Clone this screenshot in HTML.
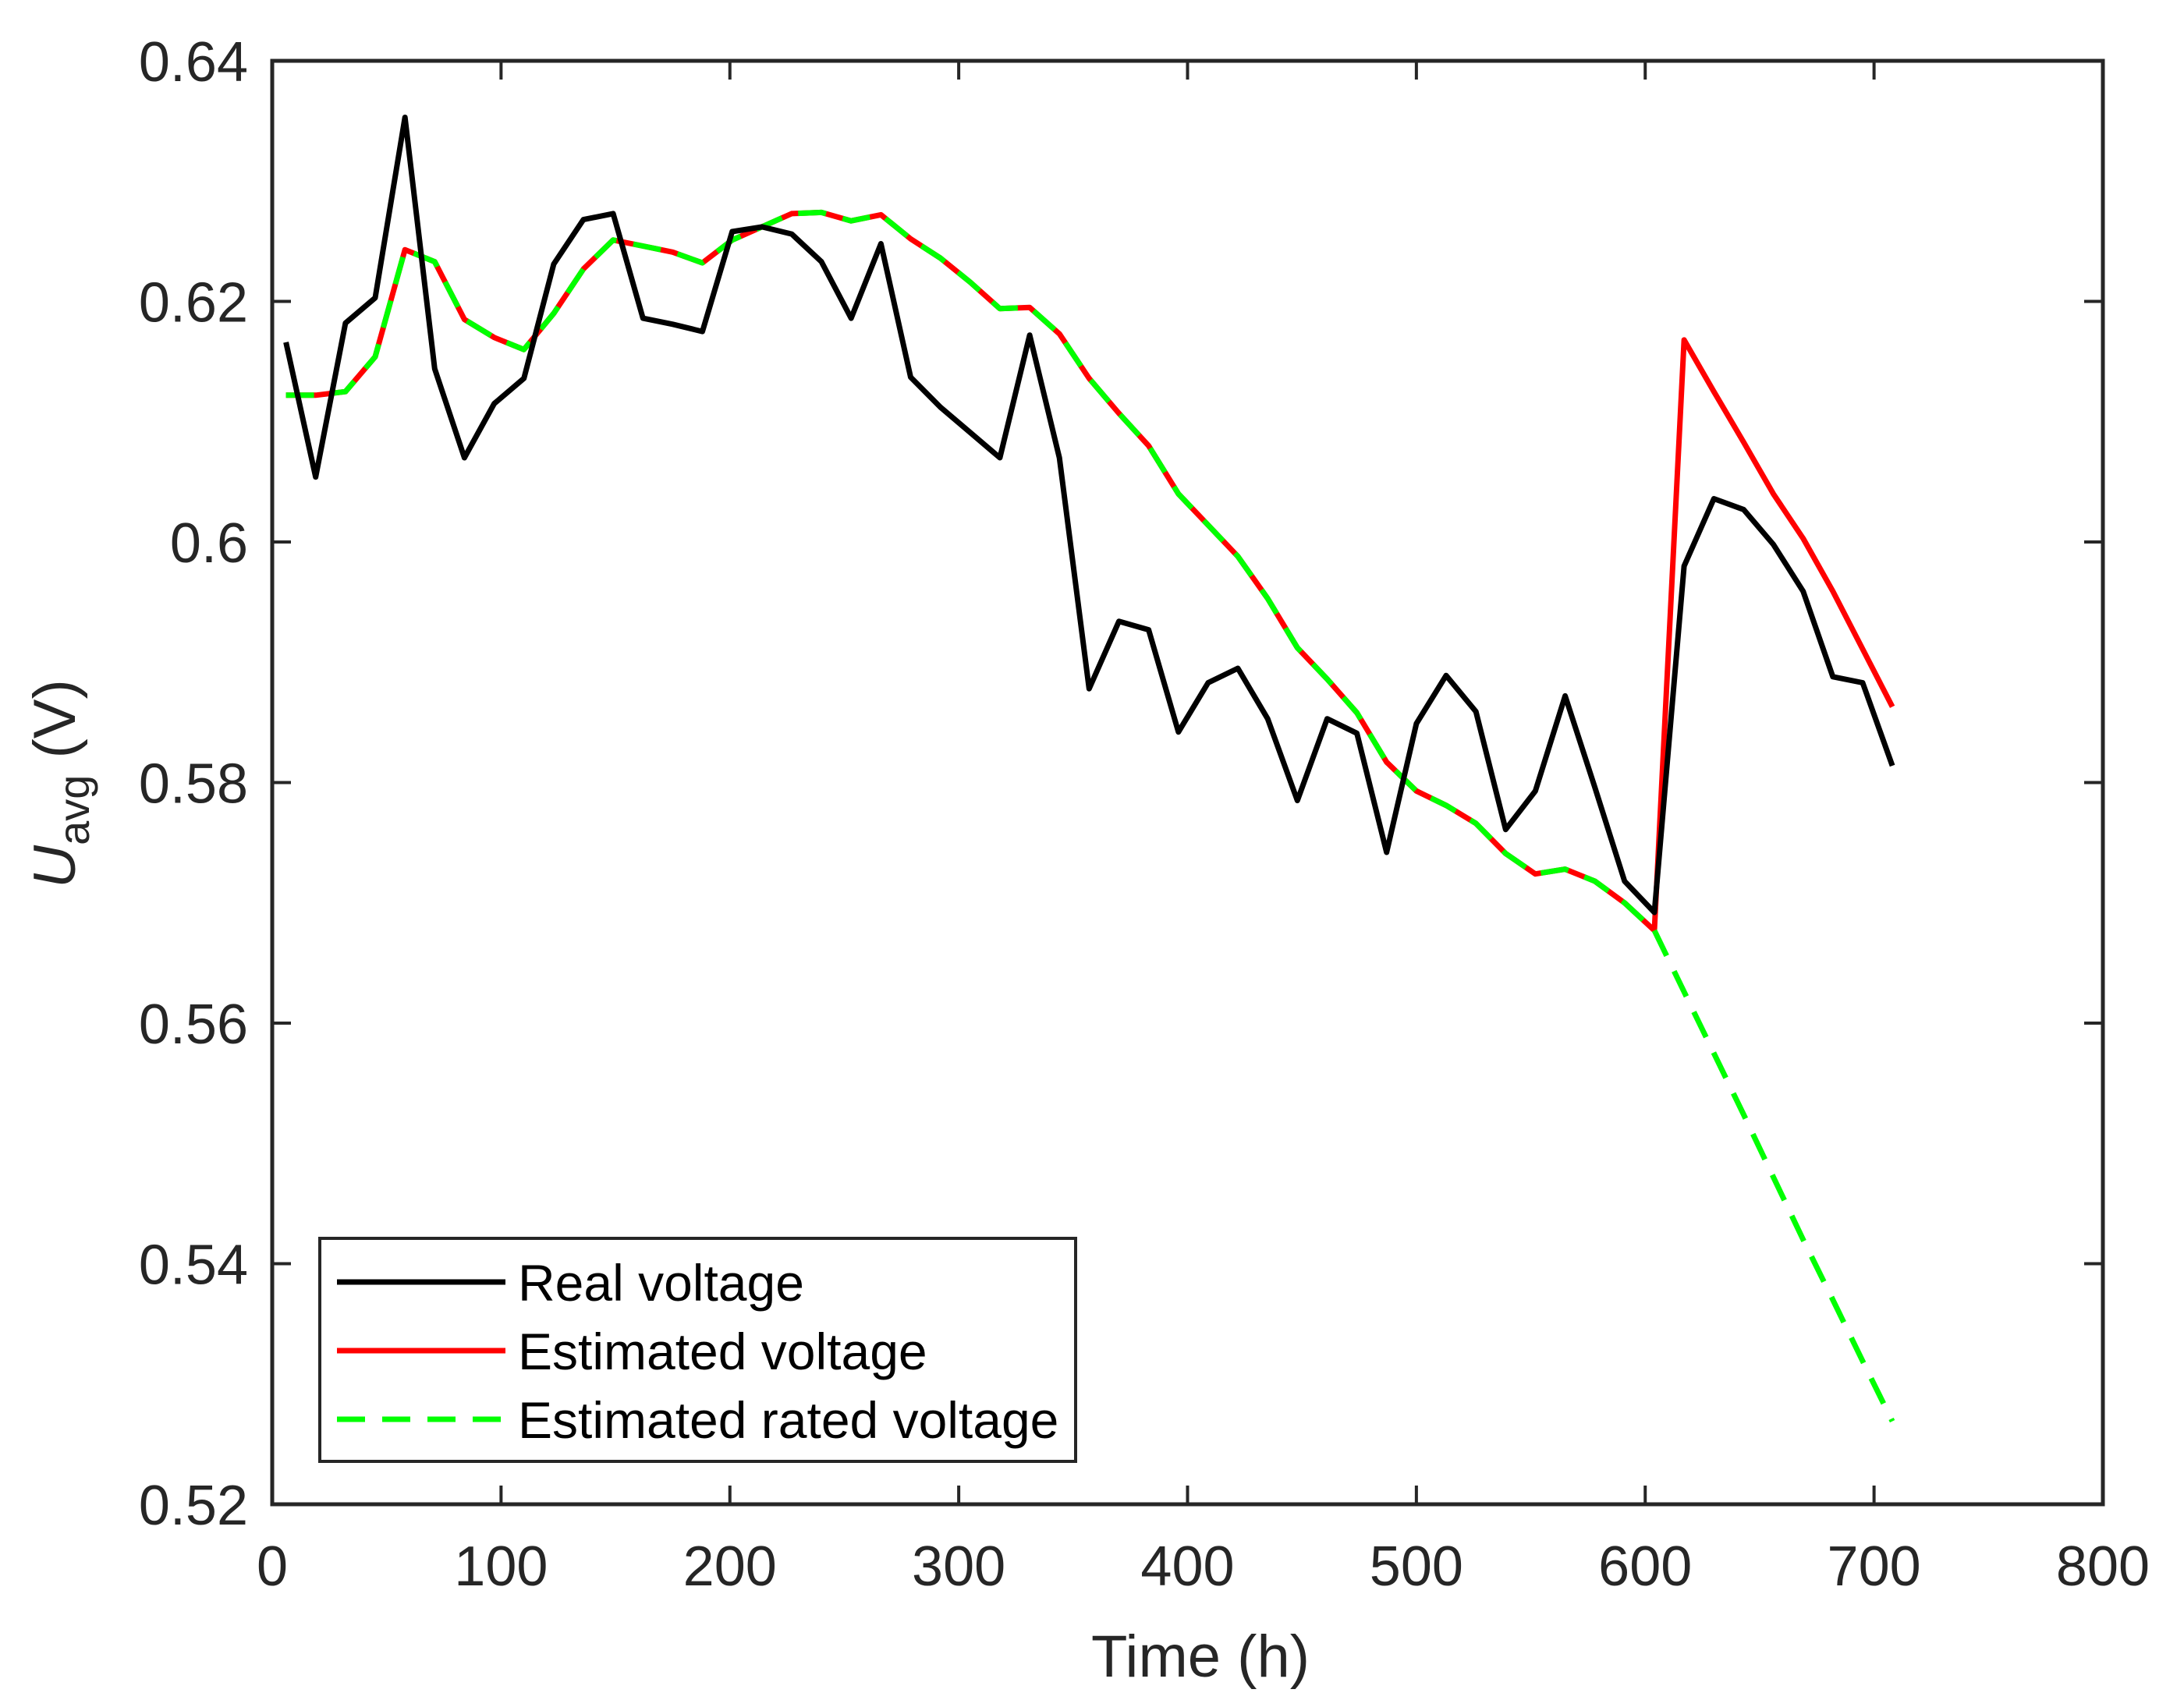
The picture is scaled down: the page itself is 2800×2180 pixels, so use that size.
<!DOCTYPE html>
<html><head><meta charset="utf-8"><style>
html,body{margin:0;padding:0;background:#fff;}
svg{display:block;font-family:"Liberation Sans",Arial,sans-serif;}
</style></head><body>
<svg id="chart" width="2800" height="2180" viewBox="0 0 2800 2180" xmlns="http://www.w3.org/2000/svg">
<rect width="2800" height="2180" fill="#fff"/>
<g id="axes"></g>
<g id="series"></g>
<text x="1539" y="2150" font-size="76" fill="#262626" text-anchor="middle">Time (h)</text>
<text transform="translate(96,1005) rotate(-90)" font-size="76" fill="#262626" text-anchor="middle"><tspan font-style="italic">U</tspan><tspan font-size="56" dy="18">avg</tspan><tspan dy="-18"> (V)</tspan></text>
<g id="legend">
<rect x="410" y="1588" width="969" height="286" fill="#fff" stroke="#262626" stroke-width="4"/>
<line x1="432" y1="1644" x2="648" y2="1644" stroke="#000" stroke-width="7"/>
<text x="664" y="1668" font-size="66" fill="#000">Real voltage</text>
<line x1="432" y1="1732" x2="648" y2="1732" stroke="#ff0000" stroke-width="7"/>
<text x="664" y="1756" font-size="66" fill="#000">Estimated voltage</text>
<line x1="432" y1="1820" x2="648" y2="1820" stroke="#00ff00" stroke-width="7" stroke-dasharray="36,22"/>
<text x="664" y="1844" font-size="66" fill="#000">Estimated rated voltage</text>
</g>
</svg>
<script>
const times = [6,19,32,45,58,71,84,97,110,123,136,149,162,175,188,201,214,227,240,253,266,279,292,305,318,331,344,357,370,383,396,409,422,435,448,461,474,487,500,513,526,539,552,565,578,591,604,617,630,643,656,669,682,695,708];
const realV = [0.6166,0.6054,0.6182,0.6203,0.6353,0.6144,0.6070,0.6115,0.6136,0.6231,0.6268,0.6273,0.6186,0.6181,0.6175,0.6258,0.6262,0.6256,0.6233,0.6186,0.6248,0.6137,0.6112,0.6091,0.6070,0.6172,0.6070,0.5878,0.5934,0.5927,0.5842,0.5883,0.5895,0.5853,0.5785,0.5853,0.5841,0.5742,0.5849,0.5889,0.5859,0.5761,0.5793,0.5872,0.5796,0.5718,0.5692,0.5980,0.6036,0.6027,0.5998,0.5959,0.5888,0.5883,0.5814];
const commonV = [0.6122,0.6122,0.6125,0.6154,0.6243,0.6233,0.6185,0.6170,0.6160,0.6190,0.6227,0.6251,0.6246,0.6241,0.6232,0.6251,0.6262,0.6273,0.6274,0.6267,0.6272,0.6252,0.6236,0.6216,0.6194,0.6195,0.6173,0.6136,0.6107,0.6080,0.6040,0.6014,0.5988,0.5953,0.5912,0.5886,0.5858,0.5817,0.5793,0.5781,0.5766,0.5741,0.5724,0.5728,0.5718,0.5700,0.5677];
const estTail = [0.6168,0.6125,0.6083,0.6040,0.6003,0.5959,0.5911,0.5863];
const ratedTail = [0.5626,0.5575,0.5524,0.5472,0.5420,0.5370,0.5319,0.5269];
const xTicks = [0,100,200,300,400,500,600,700,800];
const yTicks = [0.52,0.54,0.56,0.58,0.60,0.62,0.64];
const yTickLabels = ["0.52","0.54","0.56","0.58","0.6","0.62","0.64"];

const L=349,R=2696,T=78,B=1929;
const X=t=>L+(t-0)/(800-0)*(R-L);
const Y=v=>B-(v-0.52)/(0.64-0.52)*(B-T);
const NS="http://www.w3.org/2000/svg";
const axes=document.getElementById('axes'), series=document.getElementById('series');
function mk(tag,attrs,parent){const e=document.createElementNS(NS,tag);for(const k in attrs)e.setAttribute(k,attrs[k]);parent.appendChild(e);return e;}

const box=mk('rect',{x:L,y:T,width:R-L,height:B-T,fill:'none',stroke:'#262626','stroke-width':5},axes);


xTicks.forEach(t=>{
  const x=X(t);
  const a=mk('line',{x1:x,y1:B,x2:x,y2:B-24,stroke:'#262626','stroke-width':4},axes);
  
  
  const b=mk('line',{x1:x,y1:T,x2:x,y2:T+24,stroke:'#262626','stroke-width':4},axes);
  
  
  const tx=mk('text',{x:x,y:2033,'font-size':72,fill:'#262626','text-anchor':'middle'},axes);
  tx.textContent=String(t);
  
  
});
yTicks.forEach((v,i)=>{
  const y=Y(v);
  const a=mk('line',{x1:L,y1:y,x2:L+24,y2:y,stroke:'#262626','stroke-width':4},axes);
  
  
  const b=mk('line',{x1:R,y1:y,x2:R-24,y2:y,stroke:'#262626','stroke-width':4},axes);
  
  
  const tx=mk('text',{x:318,y:y+26,'font-size':72,fill:'#262626','text-anchor':'end'},axes);
  tx.textContent=yTickLabels[i];
  
  
});
function pts(vals,offset){return vals.map((v,i)=>X(times[i+offset]).toFixed(1)+','+Y(v).toFixed(1)).join(' ');}
const last=commonV.length-1;
const estVals=commonV.concat(estTail);
const ratedVals=[commonV[last]].concat(ratedTail);
const red=mk('polyline',{points:pts(estVals,0),fill:'none',stroke:'#ff0000','stroke-width':7,'stroke-linejoin':'round'},series);


const green=mk('polyline',{points:pts(commonV,0),fill:'none',stroke:'#00ff00','stroke-width':7,'stroke-dasharray':'36,22','stroke-linejoin':'round'},series);


const green2=mk('polyline',{points:pts(ratedVals,last),fill:'none',stroke:'#00ff00','stroke-width':7,'stroke-dasharray':'36,22'},series);


const black=mk('polyline',{points:pts(realV,0),fill:'none',stroke:'#000','stroke-width':7,'stroke-linejoin':'round'},series);


</script>
</body></html>
